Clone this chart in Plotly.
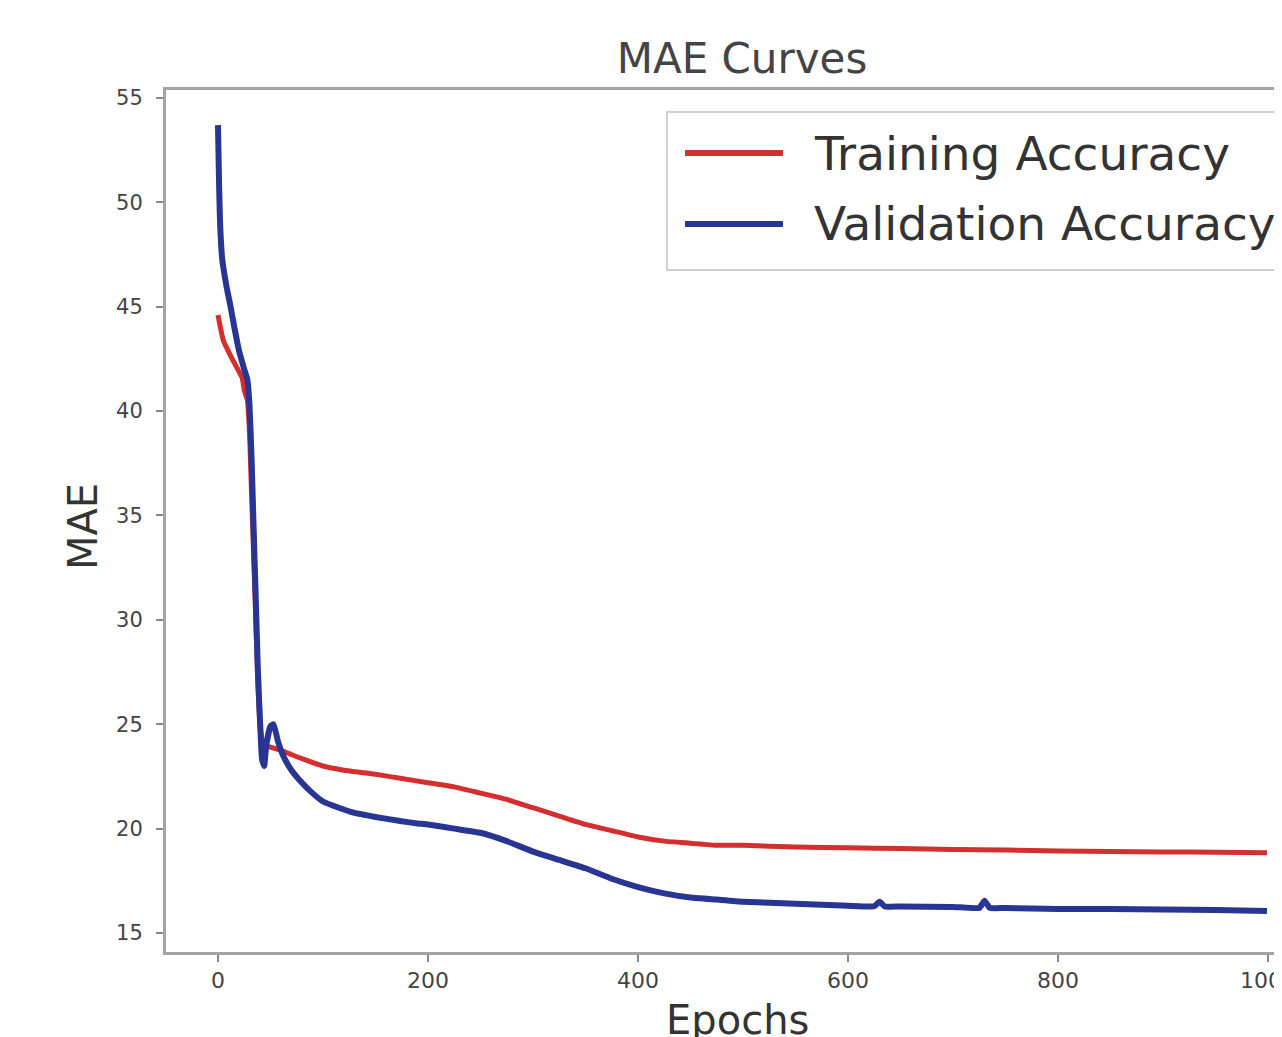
import plotly.graph_objects as go

# ---- data ----
train_epochs = [0, 5, 14, 23, 25, 28, 30, 32, 34, 36, 38, 40, 42, 45, 50, 60, 70, 80, 100, 120, 150, 175, 200,
                225, 250, 275, 300, 325, 350, 375, 400, 425, 450, 475, 500, 550, 600, 650, 700, 750, 800, 850,
                900, 950, 999]
train_mae = [44.6, 43.4, 42.45, 41.6, 41.0, 40.5, 39.0, 36.0, 33.0, 30.0, 27.0, 25.0, 24.3, 24.0, 23.9, 23.75,
             23.55, 23.35, 23.0, 22.8, 22.6, 22.4, 22.2, 22.0, 21.7, 21.4, 21.0, 20.6, 20.2, 19.9, 19.6, 19.4,
             19.3, 19.2, 19.2, 19.12, 19.08, 19.05, 19.0, 18.97, 18.93, 18.9, 18.88, 18.87, 18.85]

val_epochs = [0, 1, 2, 4, 8, 12, 16, 20, 25, 28, 30, 32, 34, 36, 38, 40, 42, 44, 46, 50, 53, 57, 62, 70, 80, 90,
              100, 115, 130, 150, 175, 190, 200, 225, 250, 275, 300, 325, 350, 375, 400, 425, 450, 475, 500,
              550, 600, 625, 630, 635, 650, 700, 725, 730, 735, 750, 800, 850, 900, 950, 999]
val_mae = [53.7, 51.0, 49.0, 47.3, 46.0, 45.0, 43.9, 42.9, 42.0, 41.5, 40.3, 37.7, 34.3, 31.0, 27.6, 25.2, 23.3,
           23.0, 24.0, 24.9, 25.0, 24.2, 23.5, 22.8, 22.2, 21.7, 21.3, 21.0, 20.75, 20.56, 20.35, 20.25, 20.2,
           20.0, 19.8, 19.4, 18.9, 18.5, 18.1, 17.6, 17.2, 16.9, 16.7, 16.6, 16.5, 16.4, 16.3, 16.28, 16.5,
           16.27, 16.27, 16.25, 16.2, 16.55, 16.2, 16.2, 16.15, 16.15, 16.12, 16.1, 16.05]

x_ticks = [0, 200, 400, 600, 800, 1000]
y_ticks = [15, 20, 25, 30, 35, 40, 45, 50, 55]

series_names = ["Training Accuracy", "Validation Accuracy"]
series_colors = ["#d32f2f", "#283593"]

# ---- figure geometry (reference pixels; page has an 8px body margin) ----
OFF = 8
W, H = 1282 - OFF, 1037 - OFF
L, T = 166 - OFF, 90 - OFF
BOTTOM = 952 - OFF
R, B = 0, H - BOTTOM
pw, ph = W - L - R, H - T - B


def px_x(p):
    return (p - OFF - L) / pw


def px_y(p):
    return (BOTTOM - (p - OFF)) / ph


fig = go.Figure()
fig.add_trace(go.Scatter(x=train_epochs, y=train_mae, mode="lines", name=series_names[0],
                         line=dict(color=series_colors[0], width=5, shape="spline", smoothing=0.4),
                         showlegend=False))
fig.add_trace(go.Scatter(x=val_epochs, y=val_mae, mode="lines", name=series_names[1],
                         line=dict(color=series_colors[1], width=6, shape="spline", smoothing=0.4),
                         showlegend=False))

font_family = "DejaVu Sans"
text_color = "#444444"
spine = "#a3a3a3"

fig.update_layout(
    width=W, height=H,
    margin=dict(l=L, r=R, t=T, b=B, autoexpand=False),
    paper_bgcolor="white", plot_bgcolor="white",
    font=dict(family=font_family, color=text_color),
    title=dict(text="MAE Curves", font=dict(size=42, color=text_color, family=font_family),
               x=px_x(742), xref="paper", xanchor="center",
               y=1 - (58 - OFF) / H, yref="container", yanchor="middle"),
    xaxis=dict(range=[-49.5, 1013.3], tickvals=x_ticks, ticktext=[str(v) for v in x_ticks],
               showgrid=False, zeroline=False, showline=True, linecolor=spine, linewidth=3,
               mirror=True, ticks="outside", ticklen=7, tickwidth=2, tickcolor="#888888",
               tickfont=dict(size=22, color=text_color), ticklabelstandoff=0,
               ticklabeloverflow="allow", automargin=False),
    yaxis=dict(range=[14.09, 55.38], tickvals=y_ticks, ticktext=[str(v) for v in y_ticks],
               showgrid=False, zeroline=False, showline=True, linecolor=spine, linewidth=3,
               mirror=False, ticks="outside", ticklen=7, tickwidth=2, tickcolor="#888888",
               tickfont=dict(size=21, color=text_color), ticklabelstandoff=9, automargin=False),
)

# axis titles
fig.add_annotation(text="Epochs", xref="paper", yref="paper", x=px_x(737), y=px_y(1020),
                   xanchor="center", yanchor="middle", showarrow=False,
                   font=dict(size=40, color="#333333", family=font_family))
fig.add_annotation(text="MAE", xref="paper", yref="paper", x=px_x(83), y=px_y(527),
                   xanchor="center", yanchor="middle", showarrow=False, textangle=-90,
                   font=dict(size=40, color="#333333", family=font_family))

# legend (matplotlib-style box with long line keys)
fig.add_shape(type="rect", xref="paper", yref="paper", x0=px_x(667), x1=px_x(1310),
              y0=px_y(270), y1=px_y(112), line=dict(color="#d0d0d0", width=2),
              fillcolor="rgba(255,255,255,0.8)", layer="above")
for i, (name, col) in enumerate(zip(series_names, series_colors)):
    yy = 153 + i * 71
    fig.add_shape(type="line", xref="paper", yref="paper", x0=px_x(685), x1=px_x(783),
                  y0=px_y(yy), y1=px_y(yy), line=dict(color=col, width=6), layer="above")
    fig.add_annotation(text=name, xref="paper", yref="paper", x=px_x(812), y=px_y(yy),
                       xanchor="left", yanchor="middle", showarrow=False,
                       font=dict(size=47, color="#333333", family=font_family))

fig.write_html("out.html")
